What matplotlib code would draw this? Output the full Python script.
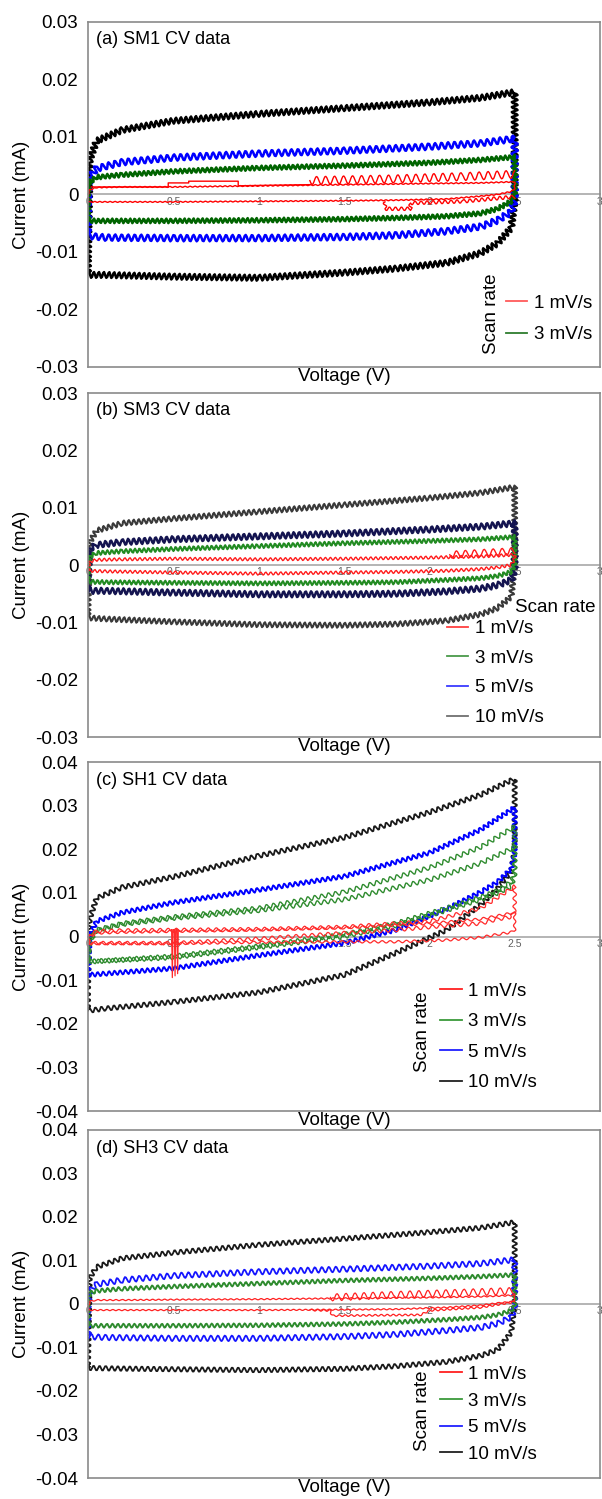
import matplotlib
matplotlib.use('Agg')
import matplotlib.pyplot as plt
from matplotlib.lines import Line2D

plt.rcParams['font.family'] = ['Liberation Sans', 'DejaVu Sans']
plt.rcParams['axes.unicode_minus'] = False

# voltage grid of the forward (anodic) and reverse (cathodic) sweeps
V_UP = [0.0, 0.01, 0.05, 0.2, 0.5, 1.0, 1.5, 2.0, 2.3, 2.5]
V_DN = [2.5, 2.48, 2.4, 2.3, 2.1, 1.8, 1.5, 1.0, 0.5, 0.1, 0.0]

rates = ['1 mV/s', '3 mV/s', '5 mV/s', '10 mV/s']
x_ticks = [0, 0.5, 1, 1.5, 2, 2.5, 3]
x_tick_labels = ['0', '0.5', '1', '1.5', '2', '2.5', '3']
y_ticks_3 = [-0.03, -0.02, -0.01, 0, 0.01, 0.02, 0.03]
y_labels_3 = ['-0.03', '-0.02', '-0.01', '0', '0.01', '0.02', '0.03']
y_ticks_4 = [-0.04, -0.03, -0.02, -0.01, 0, 0.01, 0.02, 0.03, 0.04]
y_labels_4 = ['-0.04', '-0.03', '-0.02', '-0.01', '0', '0.01', '0.02', '0.03', '0.04']

# ---- (a) SM1, current in mA on V_UP / V_DN
sm1_10_up = [-0.011, 0.006, 0.0093, 0.0112, 0.0128, 0.0140, 0.0150, 0.0160, 0.0168, 0.0178]
sm1_10_dn = [-0.001, -0.0058, -0.0085, -0.0102, -0.0119, -0.0129, -0.0136, -0.0145, -0.0143, -0.014, -0.014]
sm1_5_up = [-0.0005, 0.003, 0.0045, 0.0056, 0.0064, 0.0071, 0.0076, 0.0083, 0.0089, 0.0097]
sm1_5_dn = [-0.001, -0.003, -0.0045, -0.0056, -0.0064, -0.0071, -0.0074, -0.0076, -0.0076, -0.0075, -0.0072]
sm1_3_up = [0.001, 0.0022, 0.003, 0.0034, 0.004, 0.0046, 0.005, 0.0055, 0.006, 0.0065]
sm1_3_dn = [0.0, -0.0012, -0.0025, -0.0033, -0.0038, -0.0041, -0.0043, -0.0045, -0.0046, -0.0046, -0.0046]
sm1_1_up = [0.0, 0.0008, 0.0012, 0.0013, 0.0013, 0.0015, 0.0017, 0.0019, 0.002, 0.0022]
sm1_1_dn = [0.001, 0.0005, 0.0, -0.0003, -0.0008, -0.001, -0.0011, -0.0012, -0.0013, -0.0013, -0.0013]
sm1_1_step_v = [0.02, 0.47, 0.47, 0.59, 0.59, 0.88, 0.88, 1.3]
sm1_1_step_i = [0.0013, 0.0013, 0.002, 0.002, 0.0023, 0.0023, 0.0015, 0.0017]
sm1_1_spk_v = [1.3, 1.8, 2.2, 2.5]
sm1_1_spk_i = [0.0024, 0.0027, 0.0031, 0.0035]
sm1_1_low_v = [1.74, 1.74, 1.89, 1.89, 2.2, 2.5]
sm1_1_low_i = [-0.0013, -0.0025, -0.0025, -0.0015, -0.0012, -0.0004]

# ---- (b) SM3
sm3_10_up = [-0.008, 0.004, 0.006, 0.0073, 0.0081, 0.0093, 0.0105, 0.0117, 0.0126, 0.0136]
sm3_10_dn = [0.0, -0.0055, -0.0075, -0.0086, -0.0097, -0.0103, -0.0105, -0.0104, -0.0099, -0.0094, -0.0092]
sm3_5_up = [-0.001, 0.0028, 0.0035, 0.004, 0.0045, 0.005, 0.0055, 0.0062, 0.0067, 0.0073]
sm3_5_dn = [-0.001, -0.0026, -0.0035, -0.0041, -0.0046, -0.005, -0.0051, -0.0051, -0.0048, -0.0045, -0.0045]
sm3_3_up = [0.0, 0.0015, 0.0021, 0.0024, 0.0028, 0.0033, 0.0038, 0.0042, 0.0045, 0.0049]
sm3_3_dn = [0.0, -0.0012, -0.0019, -0.0023, -0.0026, -0.003, -0.0031, -0.0032, -0.0031, -0.003, -0.0029]
sm3_1_up = [-0.001, 0.0006, 0.0009, 0.001, 0.0011, 0.001, 0.0011, 0.0013, 0.0015, 0.0018]
sm3_1_dn = [0.0012, 0.0, -0.0004, -0.0007, -0.001, -0.0012, -0.0013, -0.0015, -0.0013, -0.0011, -0.001]
sm3_1_spk_v = [2.12, 2.3, 2.5]
sm3_1_spk_i = [0.0018, 0.0021, 0.0024]

# ---- (c) SH1
sh1_10_up = [-0.012, 0.004, 0.0088, 0.0113, 0.0137, 0.0185, 0.0227, 0.0285, 0.0325, 0.0362]
sh1_10_dn = [0.02, 0.015, 0.011, 0.0073, 0.0015, -0.0038, -0.0088, -0.0128, -0.015, -0.0165, -0.017]
sh1_5_up = [-0.009, 0.0, 0.0035, 0.0055, 0.0078, 0.0107, 0.0138, 0.0192, 0.0245, 0.0296]
sh1_5_dn = [0.019, 0.0155, 0.0125, 0.0102, 0.0063, 0.0015, -0.0015, -0.0043, -0.0073, -0.0085, -0.0088]
sh1_3a_up = [-0.0055, -0.001, 0.0015, 0.003, 0.0045, 0.0065, 0.0102, 0.0158, 0.0205, 0.0252]
sh1_3a_dn = [0.015, 0.0125, 0.0105, 0.009, 0.0065, 0.003, 0.0005, -0.0022, -0.0045, -0.0055, -0.0057]
sh1_3b_up = [-0.005, -0.001, 0.0013, 0.0028, 0.0042, 0.006, 0.0085, 0.013, 0.0168, 0.0205]
sh1_3b_dn = [0.014, 0.0115, 0.01, 0.0085, 0.006, 0.0025, 0.0, -0.0025, -0.0048, -0.0056, -0.0058]
sh1_1a_up = [-0.0015, 0.0005, 0.0012, 0.0014, 0.0015, 0.0017, 0.0022, 0.0035, 0.0065, 0.0115]
sh1_1a_dn = [0.006, 0.0045, 0.004, 0.003, 0.0025, 0.0015, 0.0008, -0.0005, -0.0015, -0.0015, -0.0015]
sh1_1b_up = [-0.0015, 0.0, 0.0008, 0.001, 0.0012, 0.0015, 0.002, 0.003, 0.004, 0.0055]
sh1_1b_dn = [0.0015, 0.001, 0.0005, -0.0002, -0.0008, -0.0012, -0.0012, -0.0013, -0.0016, -0.0016, -0.0016]
sh1_1_spike_v = [0.49, 0.494, 0.498, 0.506, 0.51, 0.514, 0.521, 0.525, 0.529]
sh1_1_spike_i = [0.0016, -0.0094, 0.0016, 0.0016, -0.009, 0.0016, 0.0016, -0.0085, 0.0016]

# ---- (d) SH3
sh3_10_up = [-0.014, 0.006, 0.0085, 0.0105, 0.0118, 0.0136, 0.015, 0.0165, 0.0175, 0.0188]
sh3_10_dn = [0.0, -0.0065, -0.0105, -0.0119, -0.0133, -0.0143, -0.0149, -0.0152, -0.015, -0.0148, -0.0147]
sh3_5_up = [-0.001, 0.003, 0.0045, 0.0055, 0.0065, 0.0074, 0.008, 0.0087, 0.0093, 0.0102]
sh3_5_dn = [-0.001, -0.003, -0.0045, -0.0054, -0.0061, -0.007, -0.0075, -0.0079, -0.0079, -0.0077, -0.0075]
sh3_3_up = [0.0005, 0.0025, 0.003, 0.0035, 0.004, 0.0047, 0.0054, 0.0059, 0.0063, 0.0067]
sh3_3_dn = [-0.0005, -0.0015, -0.0025, -0.0031, -0.0036, -0.0042, -0.0046, -0.0049, -0.005, -0.005, -0.005]
sh3_1_up = [-0.0015, 0.0006, 0.0009, 0.0009, 0.001, 0.0011, 0.0013, 0.0015, 0.0017, 0.002]
sh3_1_dn = [0.001, 0.0005, 0.0002, -0.0003, -0.0008, -0.0012, -0.0013, -0.0014, -0.0014, -0.0014, -0.0014]
sh3_1_step_v = [2.5, 2.3, 2.0, 1.95, 1.43, 1.42, 1.3]
sh3_1_step_i = [0.0005, -0.0008, -0.0015, -0.0025, -0.0027, -0.0015, -0.0014]
sh3_1_spk_v = [1.42, 1.8, 2.2, 2.5]
sh3_1_spk_i = [0.0015, 0.0021, 0.0026, 0.003]


def cv(ax, i_up, i_dn, color, lw, amp, wl):
	# one closed cycle: forward sweep, reverse sweep, back to the start
	v = V_UP + V_DN + [V_UP[0]]
	i = i_up + i_dn + [i_up[0]]
	ln, = ax.plot(v, i, color=color, lw=lw)
	if amp:
		ln.set_sketch_params(amp, wl, 1)   # the saw-tooth ripple of the recorder
	return ln


def trace(ax, v, i, color, lw, amp=0, wl=5):
	ln, = ax.plot(v, i, color=color, lw=lw)
	if amp:
		ln.set_sketch_params(amp, wl, 1)
	return ln


def frame(fig, rect, title, yt, yl):
	ax = fig.add_axes(rect)
	lim = yt[-1]
	ax.set_xlim(0, 3)
	ax.set_ylim(-lim, lim)
	ax.set_yticks(yt, yl)
	ax.set_xticks([])
	ax.tick_params(axis='y', length=0, pad=7, labelsize=13.5)
	for s in ax.spines.values():
		s.set_color('#8a8a8a')
		s.set_linewidth(1.2)
	ax.set_xlabel('Voltage (V)', fontsize=13.5, labelpad=1)
	ax.set_ylabel('Current (mA)', fontsize=13.5, labelpad=4)
	# excel style axis through zero, labels under the line
	sec = ax.secondary_xaxis(0.5)
	sec.set_alignment('bottom')
	sec.set_xticks(x_ticks, x_tick_labels)
	sec.tick_params(length=0, pad=1.5, labelsize=7.5, labelcolor='#606060')
	sec.spines['bottom'].set_color('#a8a8a8')
	sec.spines['bottom'].set_linewidth(1.2)
	ax.text(0.016, 0.948, title, transform=ax.transAxes, fontsize=13, va='center')
	return ax


def legend(ax, colors, labels, x, y, spacing):
	hs = [Line2D([], [], color=c, lw=1.3) for c in colors]
	ax.legend(hs, labels, loc='center left', bbox_to_anchor=(x, y), frameon=False,
		fontsize=13.5, handlelength=1.15, handletextpad=0.35, labelspacing=spacing,
		borderpad=0, borderaxespad=0)


def main():
	fig = plt.figure(figsize=(6.02, 14.99), dpi=100)
	l, w = 0.1462, 0.8505

	# (a)
	ax = frame(fig, [l, 0.7552, w, 0.2302], '(a) SM1 CV data', y_ticks_3, y_labels_3)
	cv(ax, sm1_10_up, sm1_10_dn, '#000000', 1.8, 3.0, 5)
	cv(ax, sm1_5_up, sm1_5_dn, '#0000ff', 1.8, 3.2, 6.5)
	cv(ax, sm1_3_up, sm1_3_dn, '#006400', 1.8, 2.3, 4.5)
	cv(ax, sm1_1_up, sm1_1_dn, '#ff0000', 1.0, 0.5, 5)
	trace(ax, sm1_1_step_v, sm1_1_step_i, '#ff0000', 1.0)
	trace(ax, sm1_1_spk_v, sm1_1_spk_i, '#ff0000', 1.0, 4.0, 9)
	trace(ax, sm1_1_low_v, sm1_1_low_i, '#ff0000', 1.0, 1.8, 6)
	legend(ax, ['#ff5a5a', '#2e7d2e'], rates[:2], 0.816, 0.139, 0.76)
	ax.text(0.789, 0.154, 'Scan rate', transform=ax.transAxes, rotation=90,
		fontsize=13.5, ha='center', va='center')

	# (b)
	ax = frame(fig, [l, 0.5083, w, 0.2295], '(b) SM3 CV data', y_ticks_3, y_labels_3)
	cv(ax, sm3_10_up, sm3_10_dn, '#3a3a3a', 1.5, 2.6, 5)
	cv(ax, sm3_5_up, sm3_5_dn, '#141450', 1.8, 3.0, 5.5)
	cv(ax, sm3_3_up, sm3_3_dn, '#228b22', 1.5, 2.1, 4.5)
	cv(ax, sm3_1_up, sm3_1_dn, '#ff1a1a', 1.0, 1.5, 5)
	trace(ax, sm3_1_spk_v, sm3_1_spk_i, '#ff1a1a', 1.0, 3.5, 9)
	legend(ax, ['#ff4040', '#4a9a4a', '#3a3aff', '#707070'], rates, 0.701, 0.186, 0.67)
	ax.text(0.834, 0.378, 'Scan rate', transform=ax.transAxes,
		fontsize=13.5, ha='left', va='center')

	# (c)
	ax = frame(fig, [l, 0.2588, w, 0.2328], '(c) SH1 CV data', y_ticks_4, y_labels_4)
	cv(ax, sh1_10_up, sh1_10_dn, '#1a1a1a', 1.3, 2.4, 6)
	cv(ax, sh1_5_up, sh1_5_dn, '#0000ff', 1.4, 2.2, 5.5)
	cv(ax, sh1_3a_up, sh1_3a_dn, '#2e8b2e', 1.0, 2.2, 7)
	cv(ax, sh1_3b_up, sh1_3b_dn, '#2e8b2e', 1.0, 2.2, 7)
	cv(ax, sh1_1a_up, sh1_1a_dn, '#ff2a2a', 0.9, 1.8, 8)
	cv(ax, sh1_1b_up, sh1_1b_dn, '#ff2a2a', 0.9, 1.2, 8)
	trace(ax, sh1_1_spike_v, sh1_1_spike_i, '#ff2a2a', 0.9)
	legend(ax, ['#ff2020', '#3a9a3a', '#2020ff', '#202020'], rates, 0.6875, 0.212, 0.71)
	ax.text(0.654, 0.226, 'Scan rate', transform=ax.transAxes, rotation=90,
		fontsize=13.5, ha='center', va='center')

	# (d)
	ax = frame(fig, [l, 0.0140, w, 0.2322], '(d) SH3 CV data', y_ticks_4, y_labels_4)
	cv(ax, sh3_10_up, sh3_10_dn, '#1a1a1a', 1.3, 2.4, 6)
	cv(ax, sh3_5_up, sh3_5_dn, '#1515ff', 1.3, 2.8, 7)
	cv(ax, sh3_3_up, sh3_3_dn, '#2e8b2e', 1.4, 2.0, 5.5)
	cv(ax, sh3_1_up, sh3_1_dn, '#ff2020', 0.9, 0.6, 6)
	trace(ax, sh3_1_step_v, sh3_1_step_i, '#ff2020', 0.9, 0.9, 6)
	trace(ax, sh3_1_spk_v, sh3_1_spk_i, '#ff2020', 0.9, 3.5, 9)
	legend(ax, ['#ff2020', '#3a9a3a', '#2020ff', '#202020'], rates, 0.6875, 0.183, 0.51)
	ax.text(0.654, 0.193, 'Scan rate', transform=ax.transAxes, rotation=90,
		fontsize=13.5, ha='center', va='center')

	fig.savefig('out.png', dpi=100)


if __name__ == '__main__':
	main()
